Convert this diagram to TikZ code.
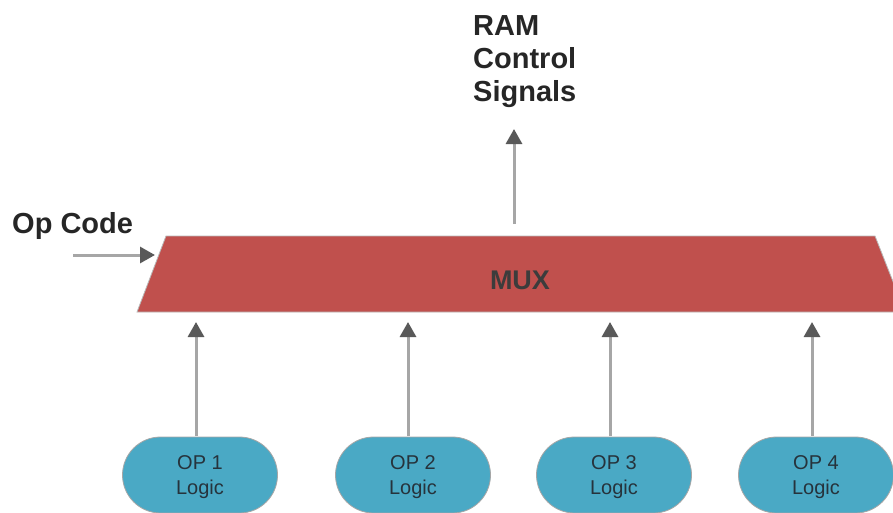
\documentclass[tikz,border=0pt]{standalone}
\usepackage{fontspec}
\setmainfont{Liberation Sans}
\usetikzlibrary{arrows.meta}

\definecolor{muxred}{HTML}{C0504D}
\definecolor{pillblue}{HTML}{4AA9C5}
\definecolor{pilltext}{HTML}{26333C}
\definecolor{labeltext}{HTML}{262626}
\definecolor{wire}{HTML}{A6A6A6}
\definecolor{tipgray}{HTML}{595959}

\tikzset{
  signal/.style={draw=wire, line width=3pt,
    -{Triangle[length=15pt,width=16pt,color=tipgray]}},
  logicbox/.style={draw=gray!70, line width=0.8pt, fill=pillblue,
    rounded corners=38pt, minimum width=155pt, minimum height=76pt,
    align=center, text=pilltext, font=\fontsize{20}{25}\selectfont,
    inner sep=0pt, text depth=0pt},
  biglabel/.style={text=labeltext, font=\bfseries\fontsize{29}{33}\selectfont,
    inner sep=0pt},
}

\begin{document}
\begin{tikzpicture}[x=1pt,y=-1pt]
\useasboundingbox (0,0) rectangle (893,512);

% multiplexer body
\begin{scope}
  \clip (0,0) rectangle (893,512);
  \filldraw[fill=muxred, draw=gray!55, line width=0.8pt]
    (166,236) -- (875,236) -- (905,312) -- (137,312) -- cycle;
\end{scope}
\node[biglabel, text=labeltext!90, font=\bfseries\fontsize{27}{30}\selectfont,
  anchor=base] (mux) at (520,289) {MUX};
\coordinate (muxtop) at (514,224);
\coordinate (muxleft) at (155,255);
\coordinate (muxbottom) at (0,322);

% opcode input
\node[biglabel, anchor=base west] (opcode) at (12,233) {Op Code};
\coordinate (opin) at (73,255);
\draw[signal] (opin) -- (muxleft);

% RAM control output
\node[biglabel, align=left, anchor=north west] (ram) at (473,15)
  {RAM\\Control\\Signals};
\coordinate (ramin) at (514,129);
\draw[signal] (muxtop) -- (ramin);

% operation logic blocks
\node[logicbox] (op1) at (200,475) {OP 1\\Logic};
\node[logicbox] (op2) at (413,475) {OP 2\\Logic};
\node[logicbox] (op3) at (614,475) {OP 3\\Logic};
\node[logicbox] (op4) at (816,475) {OP 4\\Logic};

\foreach \i/\x in {1/196,2/408,3/610,4/812}{
  \coordinate (src\i) at (\x,436);
  \draw[signal] (src\i) -- (src\i |- muxbottom);
}
\end{tikzpicture}
\end{document}
